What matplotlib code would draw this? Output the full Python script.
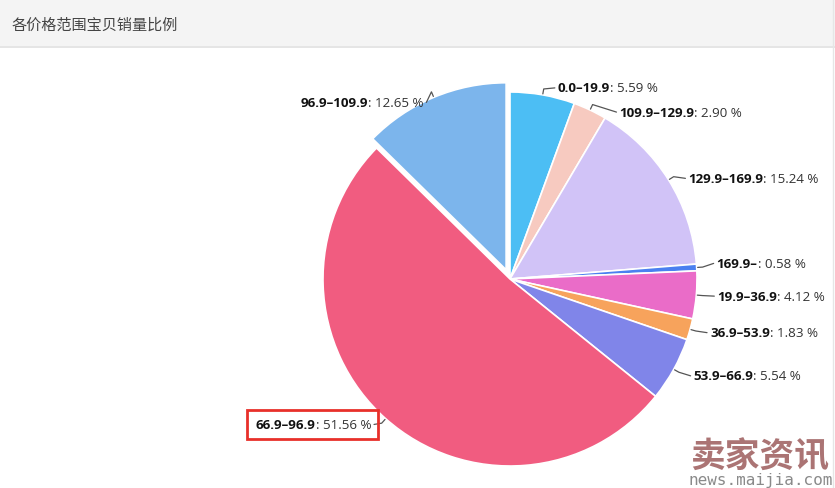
import numpy as np
import matplotlib.pyplot as plt
from matplotlib.patches import Rectangle

# price ranges in clockwise order starting at 12 o'clock
ranges = ['0.0–19.9', '109.9–129.9', '129.9–169.9', '169.9–', '19.9–36.9',
          '36.9–53.9', '53.9–66.9', '66.9–96.9', '96.9–109.9']
shares = [5.59, 2.90, 15.24, 0.58, 4.12, 1.83, 5.54, 51.56, 12.65]

colors = ['#4CBEF4', '#F7CAC0', '#D1C3F7', '#4A80F0', '#EA6CC8',
          '#F7A35C', '#8085E9', '#F15C80', '#7CB5EC']
explode_px = [0, 0, 0, 0, 0, 0, 0, 0, 10]
# label nudges in pixels (dx away from pie, dy downwards)
label_dx = [15, 29, 19, 19, 20, 19, 19, 14, 10]
label_dy = [-6, 3, -1, -4, 1, 3, 6, 5, 6]

W, H = 835, 489
cx, cy, r = 510, H - 280, 187

fig = plt.figure(figsize=(W / 100, H / 100), dpi=100)
ax = fig.add_axes([0, 0, 1, 1])

# header band
ax.add_patch(Rectangle((0, H - 47), W, 47, facecolor='#F4F4F4', edgecolor='none', zorder=0))
ax.plot([0, W], [H - 47.5, H - 47.5], color='#E0E0E0', lw=1.2)
ax.plot([W - 2, W - 2], [0, H], color='#E6E6E6', lw=1)
ax.text(12, H - 25, '各价格范围宝贝销量比例', fontsize=10.9, color='#444444',
        family=['Noto Sans CJK SC', 'DejaVu Sans'], va='center', ha='left')

# matplotlib's explode is in data units here (pixels)
wedges, _ = ax.pie(shares, colors=colors, startangle=90, counterclock=False,
                   center=(cx, cy), radius=r, explode=explode_px,
                   wedgeprops=dict(edgecolor='white', linewidth=1.2))

tot = sum(shares)
cum = 0
for i, (lab, s) in enumerate(zip(ranges, shares)):
    mid = (cum + s / 2) / tot * 2 * np.pi
    cum += s
    sx, sy = np.sin(mid), np.cos(mid)
    ox, oy = cx + explode_px[i] * sx, cy + explode_px[i] * sy
    ex, ey = ox + (r + 1) * sx, oy + (r + 1) * sy
    right = sx >= 0
    side = 1 if right else -1
    lx = ex + side * label_dx[i]
    ly = ey - label_dy[i]
    # connector
    mx, my = ox + (r + 6) * sx, oy + (r + 6) * sy
    ax.plot([ex, mx, lx - side * 3], [ey, my, ly], color='#555555', lw=0.9,
            solid_capstyle='round', zorder=5)
    bold_kw = dict(fontsize=9.6, family='Open Sans', fontweight='bold', color='#111111')
    reg_kw = dict(fontsize=9.6, family='Open Sans', color='#333333')
    val = f': {s:.2f} %'
    if right:
        t = ax.text(lx, ly, lab, ha='left', va='center', **bold_kw)
        ax.annotate(val, xy=(1, 0.5), xycoords=t, ha='left', va='center', **reg_kw)
    else:
        t = ax.text(lx, ly, val, ha='right', va='center', **reg_kw)
        ax.annotate(lab, xy=(0, 0.5), xycoords=t, ha='right', va='center', **bold_kw)

# highlight box around the largest share label
ax.add_patch(Rectangle((247, H - 440), 131, 29, facecolor='none',
                       edgecolor='#E8302A', lw=2, zorder=6))

# watermark
ax.text(760, H - 457, '卖家资讯', fontsize=25, fontweight='bold', color='#9C5C5C',
        family=['Noto Sans CJK SC'], ha='center', va='center', alpha=0.85)
ax.text(761, H - 481, 'news.maijia.com', fontsize=11.5, color='#8A8A8A',
        family='DejaVu Sans Mono', ha='center', va='center')

ax.set_xlim(0, W)
ax.set_ylim(0, H)
ax.set_aspect('auto')
ax.set_axis_off()
fig.savefig('out.png', dpi=100)
